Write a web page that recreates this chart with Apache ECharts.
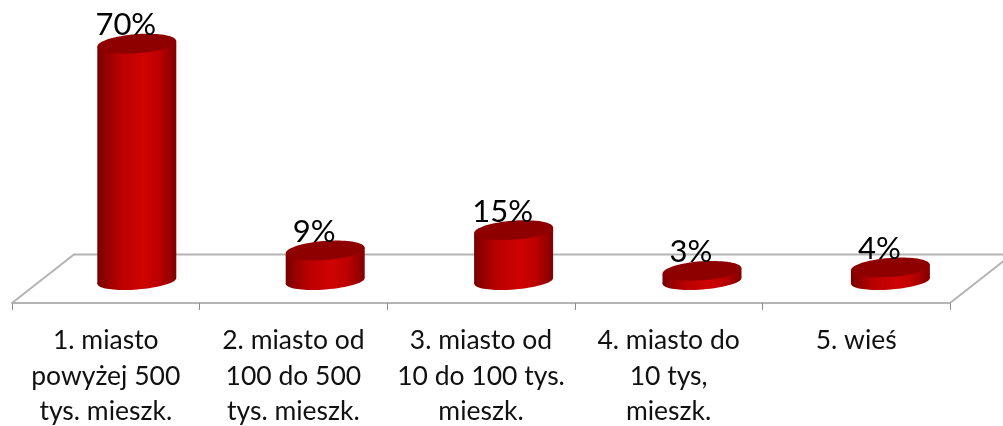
<!DOCTYPE html>
<html><head><meta charset="utf-8">
<style>html,body{margin:0;padding:0;background:#fff}#c{width:1003px;height:426px}</style>
<script src="https://cdn.jsdelivr.net/npm/echarts@6/dist/echarts.min.js"></script>
</head><body><div id="c"></div>
<script>
const categories = ['1. miasto\npowyżej 500\ntys. mieszk.','2. miasto od\n100 do 500\ntys. mieszk.','3. miasto od\n10 do 100 tys.\nmieszk.','4. miasto do\n10 tys,\nmieszk.','5. wieś'];
const values = [70, 9, 15, 3, 4];
const DX = 31, DY = -22, DX_STEP = 0.8, RX = 39.5, RY = 9.5, RY_BASE = 8.5, TILT = 0.075;
const FLOOR_DX = 62, FLOOR_DY = -48.5;
const chart = echarts.init(document.getElementById('c'), null, {renderer:'canvas'});
const bodyGrad = {type:'linear',x:0,y:0,x2:1,y2:0,colorStops:[
  {offset:0,color:'#760000'},{offset:.1,color:'#920000'},{offset:.3,color:'#bb0000'},
  {offset:.58,color:'#cf0303'},{offset:.78,color:'#bc0000'},{offset:.94,color:'#920000'},{offset:1,color:'#800000'}]};
function ell(cx,cy,ry,fill){
  return {type:'ellipse',originX:cx,originY:cy,rotation:TILT,
    shape:{cx:cx,cy:cy,rx:RX,ry:ry},style:{fill:fill}};
}
function renderCyl(params,api){
  const v = api.value(1), i = api.value(0);
  const p = api.coord([i,v]);
  const b = api.coord([i,0]);
  const cx = p[0]+DX+DX_STEP*i, top = p[1]+DY, bot = b[1]+DY;
  const s = RX*Math.sin(TILT);
  return {type:'group',children:[
    ell(cx,bot,RY_BASE,bodyGrad),
    {type:'polygon',shape:{points:[[cx-RX,top+s],[cx+RX,top-s],[cx+RX,bot-s],[cx-RX,bot+s]]},style:{fill:bodyGrad}},
    ell(cx,top,RY,'#8e0000'),
    {type:'text',style:{text:v+'%',x:cx-11,y:top-3,align:'center',verticalAlign:'bottom',
      font:'31px Lato',fill:'#000'},z2:5}
  ]};
}
function renderFloor(params,api){
  const g = params.coordSys;
  const y = g.y+g.height, x0 = g.x, x1 = g.x+g.width;
  return {type:'polyline',silent:true,
    shape:{points:[[x0,y],[x0+FLOOR_DX,y+FLOOR_DY],[x1+FLOOR_DX,y+FLOOR_DY],[x1,y]]},
    style:{stroke:'#b4b4b4',lineWidth:2,fill:null}};
}
chart.setOption({
  animation:false,
  backgroundColor:'#fff',
  grid:{left:12,right:53,top:65.7,bottom:123,containLabel:false,outerBoundsMode:'none'},
  xAxis:{type:'category',data:categories,
    axisLine:{show:true,lineStyle:{color:'#b4b4b4',width:2}},
    axisTick:{show:true,length:7,lineStyle:{color:'#8c8c8c',width:1}},
    axisLabel:{interval:0,color:'#111',fontFamily:'Lato',fontSize:26.5,lineHeight:35.5,margin:20,hideOverlap:false}},
  yAxis:{type:'value',min:0,max:70,show:false,splitLine:{show:false}},
  series:[
    {type:'custom',z:1,clip:false,renderItem:renderFloor,data:[[0,0]],encode:{x:0,y:1}},
    {type:'custom',z:3,clip:false,renderItem:renderCyl,
     data:values.map((v,i)=>[i,v]),encode:{x:0,y:1}}
  ]
});
</script></body></html>
